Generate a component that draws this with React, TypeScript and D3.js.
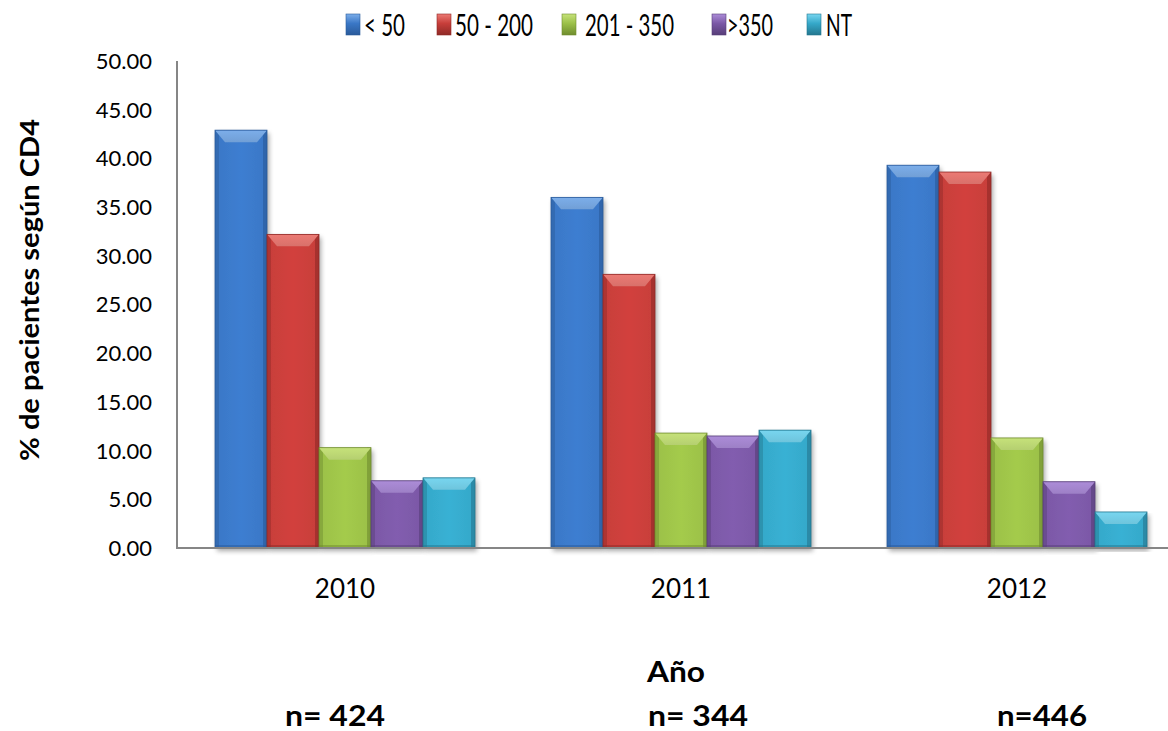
import React from "react";
import * as d3 from "d3";

// CD4 distribution of patients per year
const years = ["2010", "2011", "2012"];
const seriesNames = ["< 50", "50 - 200", "201 - 350", ">350", "NT"];
const vals2010 = [42.9, 32.2, 10.3, 6.9, 7.2];
const vals2011 = [36.0, 28.1, 11.8, 11.5, 12.1];
const vals2012 = [39.3, 38.6, 11.3, 6.8, 3.7];
const sampleSizes = ["n= 424", "n= 344", "n=446"];
const yTicks = [0, 5, 10, 15, 20, 25, 30, 35, 40, 45, 50];

const palette = [
  { base: "#3A77C6", light: "#7CAEEA", dark: "#2A5A9A" },
  { base: "#C73E3A", light: "#EC7A74", dark: "#8F2A27" },
  { base: "#9BC048", light: "#C6E27A", dark: "#6F8C2E" },
  { base: "#7B58A6", light: "#AC8CD8", dark: "#573E78" },
  { base: "#35A8C9", light: "#78D6F0", dark: "#24778F" },
];

const W = 1168;
const H = 731;
const plotLeft = 177;
const plotTop = 61;
const plotBottom = 548;

const FONT = "Lato, 'Open Sans', sans-serif";

function Bar({ x, y, w, h, c, id }: { x: number; y: number; w: number; h: number; c: typeof palette[0]; id: string }) {
  const bt = Math.min(12, h / 2);
  const bi = Math.min(10, w / 3);
  const side = 4;
  return (
    <g>
      <rect x={x} y={y} width={w} height={h} fill={`url(#body-${id})`} filter="url(#shadow)" />
      {/* left and right bevel strips */}
      <rect x={x} y={y} width={side} height={h} fill={c.dark} opacity={0.45} />
      <rect x={x + w - side} y={y} width={side} height={h} fill={c.dark} opacity={0.6} />
      {/* bottom bevel */}
      <rect x={x} y={y + h - 3} width={w} height={3} fill={c.dark} opacity={0.5} />
      {/* top bevel facet */}
      <polygon
        points={`${x},${y} ${x + w},${y} ${x + w - bi},${y + bt} ${x + bi},${y + bt}`}
        fill={`url(#top-${id})`}
      />
      <rect x={x} y={y} width={w} height={h} fill="none" stroke={c.dark} strokeWidth={0.8} />
    </g>
  );
}

export default function App() {
  const y = d3.scaleLinear().domain([0, 50]).range([plotBottom, plotTop]);
  const x0 = d3.scaleBand<string>().domain(years).range([plotLeft, plotLeft + 336 * 3]);
  const step = x0.bandwidth();
  const groupW = 260;
  const x1 = d3
    .scaleBand<string>()
    .domain(seriesNames)
    .range([(step - groupW) / 2, (step + groupW) / 2]);

  const table = [vals2010, vals2011, vals2012];

  const legendSquares = [346, 437, 562, 712, 807];
  const legendText = [364, 455, 585, 727, 826];
  const legendWidths = [41, 78, 89, 46, 26];

  return (
    <svg
      width={W}
      height={H}
      style={{ position: "absolute", left: 0, top: 0, background: "#fff" }}
      fontFamily={FONT}
    >
      <defs>
        <filter id="shadow" x="-20%" y="-5%" width="150%" height="115%">
          <feGaussianBlur in="SourceAlpha" stdDeviation="2.5" />
          <feOffset dx="2" dy="3" result="b" />
          <feComponentTransfer>
            <feFuncA type="linear" slope="0.35" />
          </feComponentTransfer>
          <feMerge>
            <feMergeNode />
            <feMergeNode in="SourceGraphic" />
          </feMerge>
        </filter>
        {palette.map((c, i) => (
          <React.Fragment key={i}>
            <linearGradient id={`body-${i}`} x1="0" x2="1" y1="0" y2="0">
              <stop offset="0" stopColor={c.base} />
              <stop offset="0.5" stopColor={d3.color(c.base)!.brighter(0.15).formatHex()} />
              <stop offset="1" stopColor={c.base} />
            </linearGradient>
            <linearGradient id={`top-${i}`} x1="0" x2="0" y1="0" y2="1">
              <stop offset="0" stopColor={c.light} />
              <stop offset="1" stopColor={d3.color(c.light)!.darker(0.25).formatHex()} />
            </linearGradient>
            <linearGradient id={`leg-${i}`} x1="0" x2="0" y1="0" y2="1">
              <stop offset="0" stopColor={c.light} />
              <stop offset="0.45" stopColor={c.base} />
              <stop offset="1" stopColor={c.dark} />
            </linearGradient>
          </React.Fragment>
        ))}
      </defs>

      {/* legend */}
      {seriesNames.map((s, i) => (
        <g key={s}>
          <rect
            x={legendSquares[i]}
            y={14}
            width={14}
            height={21}
            fill={`url(#leg-${i})`}
            stroke={palette[i].dark}
            strokeWidth={0.6}
          />
          <text
            x={legendText[i]}
            y={36}
            fontSize={31}
            fill="#000"
            textLength={legendWidths[i]}
            lengthAdjust="spacingAndGlyphs"
          >
            {s}
          </text>
        </g>
      ))}

      {/* bars */}
      {years.map((yr, gi) => (
        <g key={yr} transform={`translate(${x0(yr)},0)`}>
          {seriesNames.map((s, si) => {
            const v = table[gi][si];
            const top = y(v);
            return (
              <Bar
                key={s}
                x={x1(s)!}
                y={top}
                w={x1.bandwidth()}
                h={plotBottom - top}
                c={palette[si]}
                id={String(si)}
              />
            );
          })}
        </g>
      ))}

      {/* axes */}
      <line x1={plotLeft} x2={plotLeft} y1={plotTop} y2={plotBottom} stroke="#868686" strokeWidth={2} />
      <line x1={plotLeft - 1} x2={W} y1={plotBottom} y2={plotBottom} stroke="#868686" strokeWidth={2} />

      {yTicks.map((t) => (
        <text key={t} x={152} y={y(t)} dy="0.36em" textAnchor="end" fontSize={22} fill="#000">
          {t.toFixed(2)}
        </text>
      ))}

      {years.map((yr) => (
        <text key={yr} x={x0(yr)! + step / 2} y={598} textAnchor="middle" fontSize={26} fill="#000">
          {yr}
        </text>
      ))}

      {/* axis titles */}
      <text
        transform="translate(39,290) rotate(-90)"
        textAnchor="middle"
        fontSize={27}
        fontWeight="bold"
        fill="#000"
        textLength={342}
        lengthAdjust="spacingAndGlyphs"
      >
        % de pacientes según CD4
      </text>
      <text
        x={676}
        y={682}
        textAnchor="middle"
        fontSize={29}
        fontWeight="bold"
        fill="#000"
        textLength={58}
        lengthAdjust="spacingAndGlyphs"
      >
        Año
      </text>
      {sampleSizes.map((n, i) => (
        <text
          key={n}
          x={[335, 698, 1042][i]}
          y={726}
          textAnchor="middle"
          fontSize={29}
          fontWeight="bold"
          fill="#000"
          textLength={[100, 100, 90][i]}
          lengthAdjust="spacingAndGlyphs"
        >
          {n}
        </text>
      ))}
    </svg>
  );
}
